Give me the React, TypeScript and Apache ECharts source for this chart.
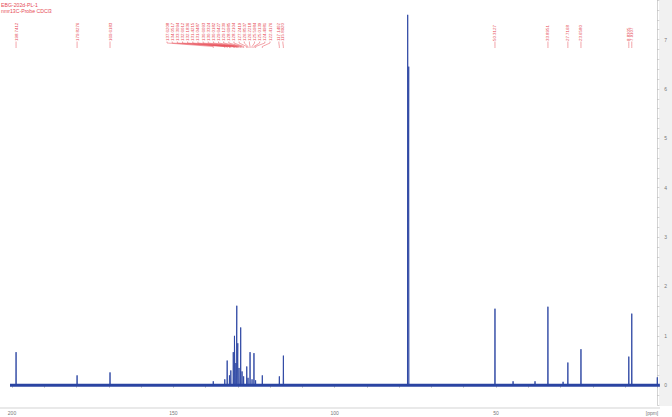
import React, { useEffect, useRef } from "react";
import * as echarts from "echarts";

const titleLines = ["EBG-202d-PL-1", "nmr13C-Probe CDCl3"];

// chemical shifts (ppm) of the lines, descending
const peakShifts = [
  198.74, 179.83, 169.62,
  137.62, 134.05, 133.31, 132.6, 132.18, 131.42, 131.05, 130.61, 130.33, 130.02,
  129.64, 129.12, 128.7, 128.21, 127.24, 126.85, 126.22, 125.6, 125.01, 124.5,
  122.42, 117.14, 115.89,
  77.36, 77.04,
  50.31, 44.7, 37.9, 33.9, 29.2, 27.72, 23.66, 8.83, 7.91, 0.0,
];
const peakHeights = [
  0.67, 0.2, 0.26,
  0.08, 0.12, 0.5, 0.2, 0.3, 0.67, 1.0, 0.45, 1.61, 0.85,
  0.35, 1.17, 0.28, 0.18, 0.38, 0.15, 0.67, 0.12, 0.65, 0.1,
  0.2, 0.18, 0.6,
  7.5, 6.45,
  1.55, 0.08, 0.08, 1.59, 0.07, 0.46, 0.73, 0.58, 1.45, 0.16,
];

const peakLabels = [
  "198.7412", "179.8276", "169.6183",
  "137.6208", "134.0517", "133.3094", "132.6012", "132.1836", "131.4215", "131.0487",
  "130.6093", "130.3324", "130.0182", "129.6427", "129.1230", "128.6985", "128.2104",
  "127.2419", "126.8537", "126.2218", "125.5984", "125.0139", "124.4981", "122.4176",
  "117.1402", "115.8920",
  "50.3127", "33.8951", "27.7168", "23.6580", "8.8305", "7.9107",
];

const xTicks = [200, 150, 100, 50];
const yTicks = [0, 1, 2, 3, 4, 5, 6, 7];
const xStart = 203.1;
const xEnd = -0.8;

const BLUE = "#2b45a3";
const RED = "#e64a55";

export default function App() {
  const ref = useRef<HTMLDivElement>(null);
  useEffect(() => {
    if (!ref.current) return;
    const chart = echarts.init(ref.current, undefined, { renderer: "svg" });

    const spectrum: number[][] = [[xStart, 0]];
    peakShifts.forEach((p, i) => {
      spectrum.push([p + 0.07, 0], [p, peakHeights[i]], [p - 0.07, 0]);
    });
    spectrum.push([xEnd, 0]);

    chart.setOption({
      animation: false,
      grid: { left: 12, right: 14.7, top: -2, bottom: 12 },
      xAxis: {
        type: "value",
        inverse: true,
        min: 0,
        max: 200,
        interval: 10,
        offset: 3,
        axisLine: { show: false },
        axisTick: { show: true, length: 2.5, lineStyle: { color: "#999", width: 0.6 } },
        axisLabel: {
          fontSize: 5,
          color: "#777",
          margin: 2,
          formatter: (v: number) => (xTicks.indexOf(Math.round(v)) >= 0 && Math.abs(v - Math.round(v)) < 1e-6 ? String(Math.round(v)) : ""),
        },
        splitLine: { show: false },
      },
      yAxis: {
        type: "value",
        position: "right",
        offset: 4,
        min: -0.4,
        max: 7.8,
        interval: 0.2,
        axisLine: { show: true, lineStyle: { color: "#c8c8c8", width: 0.8 } },
        axisTick: { show: true, length: 2, lineStyle: { color: "#aaa", width: 0.5 } },
        axisLabel: {
          fontSize: 5,
          color: "#777",
          margin: 3,
          formatter: (v: number) => {
            const r = Math.round(v);
            return Math.abs(v - r) < 1e-6 && yTicks.indexOf(r) >= 0 ? String(r) : "";
          },
        },
        splitLine: { show: false },
      },
      series: [
        {
          type: "line",
          data: [[xStart, 0], [xEnd, 0]],
          symbol: "none",
          clip: false,
          lineStyle: { color: BLUE, width: 3.2 },
          z: 2,
        },
        {
          type: "line",
          data: spectrum,
          symbol: "none",
          clip: false,
          lineStyle: { color: BLUE, width: 0.9 },
          z: 3,
        },
      ],
    });

    const px = (ppm: number) => (chart.convertToPixel({ gridIndex: 0 }, [ppm, 0]) as number[])[0];

    const graphics: any[] = [];
    graphics.push({
      type: "rect",
      z: -1,
      silent: true,
      shape: { x: 659, y: 0, width: 13, height: 406 },
      style: { fill: "#f1f1f1" },
    });
    graphics.push({
      type: "line",
      silent: true,
      shape: { x1: 0, y1: 408, x2: 660, y2: 408 },
      style: { stroke: "#c8c8c8", lineWidth: 0.8 },
    });
    graphics.push({
      type: "text",
      x: 652,
      y: 413,
      style: { text: "[ppm]", fontSize: 5, fill: "#777", textAlign: "center", textVerticalAlign: "middle" },
    });
    titleLines.forEach((t, i) => {
      graphics.push({
        type: "text",
        x: 1,
        y: 4.5 + i * 6,
        style: { text: t, fontSize: 5.2, fill: RED, textVerticalAlign: "middle", fontFamily: "Liberation Sans" },
      });
    });

    // label positions
    const clusterIdx: number[] = [];
    peakLabels.forEach((l, i) => {
      const v = parseFloat(l);
      if (v > 120 && v < 140) clusterIdx.push(i);
    });
    const cx0 = 167;
    const cx1 = 270;
    peakLabels.forEach((l, i) => {
      const v = parseFloat(l);
      const peakX = px(v);
      let lx = peakX;
      const ci = clusterIdx.indexOf(i);
      if (ci >= 0) lx = cx0 + ((cx1 - cx0) * ci) / (clusterIdx.length - 1);
      else if (v > 115 && v < 120) lx = peakX - 0.5;
      graphics.push({
        type: "text",
        x: lx,
        y: 41,
        rotation: Math.PI / 2,
        style: {
          text: l,
          fontSize: 4.4,
          fill: RED,
          textAlign: "left",
          textVerticalAlign: "middle",
          fontFamily: "Liberation Sans",
        },
      });
      graphics.push({
        type: "polyline",
        silent: true,
        shape: { points: [[lx, 41.5], [lx, 43], [peakX, 46.5], [peakX, 48]] },
        style: { stroke: RED, lineWidth: 0.5, fill: "none" },
      });
    });

    chart.setOption({ graphic: graphics });

    return () => chart.dispose();
  }, []);
  return <div ref={ref} style={{ position: "absolute", left: 0, top: 0, width: 672, height: 417 }} />;
}
